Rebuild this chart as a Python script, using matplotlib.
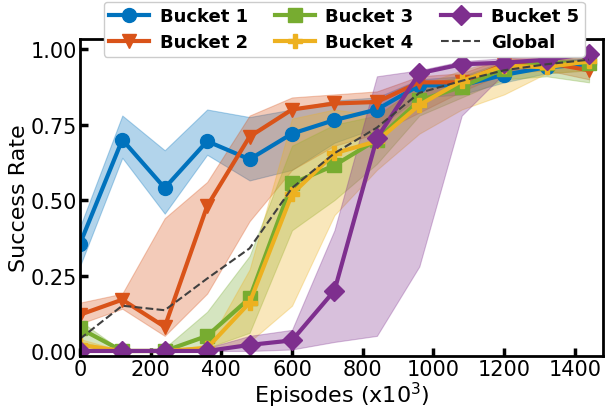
import numpy as np
import matplotlib
matplotlib.use("Agg")
import matplotlib.pyplot as plt

episodes = [0, 120, 240, 360, 480, 600, 720, 840, 960, 1080, 1200, 1320, 1440]

b1_mean = [0.354, 0.70, 0.54, 0.695, 0.635, 0.72, 0.765, 0.80, 0.88, 0.88, 0.915, 0.94, 0.95]
b1_low = [0.28, 0.64, 0.455, 0.65, 0.565, 0.60, 0.69, 0.74, 0.84, 0.85, 0.89, 0.92, 0.93]
b1_high = [0.41, 0.78, 0.665, 0.80, 0.775, 0.80, 0.83, 0.84, 0.90, 0.91, 0.94, 0.96, 0.97]

b2_mean = [0.12, 0.17, 0.08, 0.48, 0.71, 0.80, 0.82, 0.825, 0.89, 0.89, 0.95, 0.955, 0.93]
b2_low = [0.09, 0.14, 0.05, 0.19, 0.43, 0.60, 0.68, 0.72, 0.79, 0.86, 0.92, 0.93, 0.90]
b2_high = [0.16, 0.19, 0.44, 0.56, 0.78, 0.84, 0.85, 0.86, 0.91, 0.92, 0.97, 0.97, 0.96]

b3_mean = [0.075, 0.0, 0.0, 0.05, 0.175, 0.555, 0.615, 0.70, 0.83, 0.875, 0.935, 0.955, 0.955]
b3_low = [0.03, 0.0, 0.0, 0.01, 0.06, 0.40, 0.50, 0.62, 0.78, 0.84, 0.90, 0.91, 0.89]
b3_high = [0.10, 0.0, 0.01, 0.13, 0.315, 0.68, 0.75, 0.78, 0.88, 0.91, 0.96, 0.97, 0.97]

b4_mean = [0.02, 0.0, 0.0, 0.01, 0.16, 0.52, 0.655, 0.695, 0.815, 0.895, 0.945, 0.94, 0.96]
b4_low = [0.01, 0.0, 0.0, 0.0, 0.03, 0.15, 0.45, 0.60, 0.72, 0.80, 0.85, 0.92, 0.93]
b4_high = [0.04, 0.0, 0.0, 0.02, 0.27, 0.77, 0.80, 0.78, 0.88, 0.93, 0.97, 0.96, 0.98]

b5_mean = [0.0, 0.0, 0.0, 0.0, 0.02, 0.035, 0.20, 0.705, 0.92, 0.95, 0.955, 0.965, 0.985]
b5_low = [0.0, 0.0, 0.0, 0.0, 0.0, 0.005, 0.03, 0.05, 0.28, 0.78, 0.92, 0.94, 0.96]
b5_high = [0.0, 0.0, 0.0, 0.01, 0.05, 0.07, 0.40, 0.91, 0.93, 0.96, 0.97, 0.98, 0.99]

global_mean = [0.04, 0.15, 0.135, 0.24, 0.34, 0.54, 0.655, 0.74, 0.855, 0.895, 0.93, 0.95, 0.965]

labels = ["Bucket 1", "Bucket 2", "Bucket 3", "Bucket 4", "Bucket 5"]
colors = ["#0072BD", "#D95319", "#77AC30", "#EDB120", "#7E2F8E"]
markers = ["o", "v", "s", "P", "D"]

means = [b1_mean, b2_mean, b3_mean, b4_mean, b5_mean]
lows = [b1_low, b2_low, b3_low, b4_low, b5_low]
highs = [b1_high, b2_high, b3_high, b4_high, b5_high]

fig = plt.figure(figsize=(6.05, 4.10), dpi=100)
ax = fig.add_axes([0.132, 0.129, 0.865, 0.773])

lines = {}
for i in range(5):
    ax.fill_between(episodes, lows[i], highs[i], color=colors[i], alpha=0.3, linewidth=0.8)
    l, = ax.plot(episodes, means[i], color=colors[i], marker=markers[i], linewidth=3,
                 markersize=10, label=labels[i])
    lines[labels[i]] = l
g, = ax.plot(episodes, global_mean, color="#404040", linestyle="--", linewidth=1.5, label="Global")
lines["Global"] = g

ax.set_xlim(0, 1480)
ax.set_ylim(-0.017, 1.033)
ax.set_xticks(np.arange(0, 1401, 200))
ax.set_yticks([0.0, 0.25, 0.5, 0.75, 1.0])
ax.set_yticklabels(["0.00", "0.25", "0.50", "0.75", "1.00"])
ax.tick_params(direction="in", length=6, width=2.5, labelsize=15, pad=2)
for s in ax.spines.values():
    s.set_linewidth(2)

ax.set_xlabel("Episodes (x10$^3$)", fontsize=16, labelpad=1)
ax.set_ylabel("Success Rate", fontsize=16, labelpad=1)

order = ["Bucket 1", "Bucket 2", "Bucket 3", "Bucket 4", "Bucket 5", "Global"]
fig.legend([lines[k] for k in order], order, ncol=3, loc="upper center",
           bbox_to_anchor=(0.569, 1.0), prop={"weight": "bold", "size": 13},
           handlelength=2.2, columnspacing=1.5, borderpad=0.3, labelspacing=0.45,
           handletextpad=0.6, borderaxespad=0.15, framealpha=1.0)

fig.savefig("out.png", dpi=100)
